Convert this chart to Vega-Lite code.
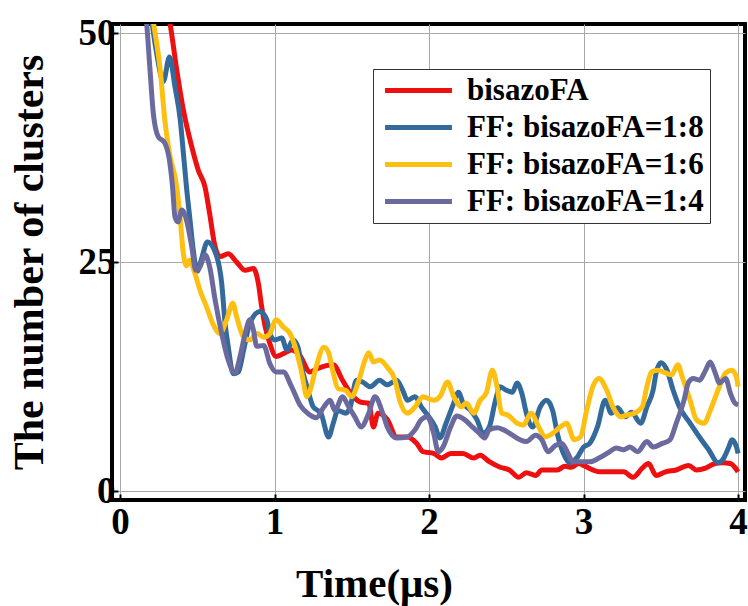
{
  "$schema": "https://vega.github.io/schema/vega-lite/v6.json",
  "width": 633,
  "height": 476,
  "autosize": "none",
  "padding": {"left": 112, "top": 24, "right": 3, "bottom": 106},
  "background": "white",
  "config": {
    "view": {"stroke": "black", "strokeWidth": 4},
    "font": "Liberation Serif"
  },
  "data": {
    "values": [
      {"s": "bisazoFA", "t": 0.30, "v": 53},
      {"s": "bisazoFA", "t": 0.32, "v": 51.4},
      {"s": "bisazoFA", "t": 0.367, "v": 46},
      {"s": "bisazoFA", "t": 0.41, "v": 41.6},
      {"s": "bisazoFA", "t": 0.464, "v": 37.6},
      {"s": "bisazoFA", "t": 0.507, "v": 35},
      {"s": "bisazoFA", "t": 0.55, "v": 33.2},
      {"s": "bisazoFA", "t": 0.58, "v": 30.3},
      {"s": "bisazoFA", "t": 0.615, "v": 26.7},
      {"s": "bisazoFA", "t": 0.647, "v": 25.6},
      {"s": "bisazoFA", "t": 0.70, "v": 25.9},
      {"s": "bisazoFA", "t": 0.755, "v": 25.0},
      {"s": "bisazoFA", "t": 0.81, "v": 24.1},
      {"s": "bisazoFA", "t": 0.863, "v": 24.3},
      {"s": "bisazoFA", "t": 0.895, "v": 22.7},
      {"s": "bisazoFA", "t": 0.917, "v": 20.1},
      {"s": "bisazoFA", "t": 0.94, "v": 17.9},
      {"s": "bisazoFA", "t": 0.97, "v": 16.1},
      {"s": "bisazoFA", "t": 1.01, "v": 14.7},
      {"s": "bisazoFA", "t": 1.057, "v": 15.0},
      {"s": "bisazoFA", "t": 1.11, "v": 15.4},
      {"s": "bisazoFA", "t": 1.16, "v": 14.9},
      {"s": "bisazoFA", "t": 1.23, "v": 13.0},
      {"s": "bisazoFA", "t": 1.28, "v": 13.4},
      {"s": "bisazoFA", "t": 1.38, "v": 13.8},
      {"s": "bisazoFA", "t": 1.44, "v": 12.1},
      {"s": "bisazoFA", "t": 1.51, "v": 10.3},
      {"s": "bisazoFA", "t": 1.56, "v": 9.7},
      {"s": "bisazoFA", "t": 1.61, "v": 9.6},
      {"s": "bisazoFA", "t": 1.64, "v": 7.0},
      {"s": "bisazoFA", "t": 1.67, "v": 8.5},
      {"s": "bisazoFA", "t": 1.73, "v": 7.8},
      {"s": "bisazoFA", "t": 1.79, "v": 5.9},
      {"s": "bisazoFA", "t": 1.86, "v": 5.9},
      {"s": "bisazoFA", "t": 1.92, "v": 5.2},
      {"s": "bisazoFA", "t": 1.96, "v": 4.3},
      {"s": "bisazoFA", "t": 2.03, "v": 4.1},
      {"s": "bisazoFA", "t": 2.08, "v": 3.6},
      {"s": "bisazoFA", "t": 2.14, "v": 4.1},
      {"s": "bisazoFA", "t": 2.22, "v": 4.1},
      {"s": "bisazoFA", "t": 2.29, "v": 3.6},
      {"s": "bisazoFA", "t": 2.33, "v": 3.9},
      {"s": "bisazoFA", "t": 2.39, "v": 3.2},
      {"s": "bisazoFA", "t": 2.46, "v": 2.6},
      {"s": "bisazoFA", "t": 2.52, "v": 2.3},
      {"s": "bisazoFA", "t": 2.58, "v": 1.5},
      {"s": "bisazoFA", "t": 2.63, "v": 2.0},
      {"s": "bisazoFA", "t": 2.69, "v": 1.7},
      {"s": "bisazoFA", "t": 2.73, "v": 2.3},
      {"s": "bisazoFA", "t": 2.83, "v": 2.3},
      {"s": "bisazoFA", "t": 2.88, "v": 2.7},
      {"s": "bisazoFA", "t": 2.92, "v": 2.6},
      {"s": "bisazoFA", "t": 2.97, "v": 3.0},
      {"s": "bisazoFA", "t": 3.0, "v": 2.8},
      {"s": "bisazoFA", "t": 3.06, "v": 2.3},
      {"s": "bisazoFA", "t": 3.1, "v": 2.1},
      {"s": "bisazoFA", "t": 3.26, "v": 2.1},
      {"s": "bisazoFA", "t": 3.32, "v": 1.5},
      {"s": "bisazoFA", "t": 3.38, "v": 2.5},
      {"s": "bisazoFA", "t": 3.42, "v": 3.0},
      {"s": "bisazoFA", "t": 3.47, "v": 1.7},
      {"s": "bisazoFA", "t": 3.53, "v": 2.1},
      {"s": "bisazoFA", "t": 3.6, "v": 2.3},
      {"s": "bisazoFA", "t": 3.68, "v": 2.8},
      {"s": "bisazoFA", "t": 3.73, "v": 2.3},
      {"s": "bisazoFA", "t": 3.79, "v": 2.5},
      {"s": "bisazoFA", "t": 3.85, "v": 3.0},
      {"s": "bisazoFA", "t": 3.9, "v": 3.1},
      {"s": "bisazoFA", "t": 3.95, "v": 3.0},
      {"s": "bisazoFA", "t": 4.0, "v": 2.1},

      {"s": "FF: bisazoFA=1:8", "t": 0.20, "v": 52},
      {"s": "FF: bisazoFA=1:8", "t": 0.24, "v": 47.5},
      {"s": "FF: bisazoFA=1:8", "t": 0.28, "v": 44.7},
      {"s": "FF: bisazoFA=1:8", "t": 0.32, "v": 47.4},
      {"s": "FF: bisazoFA=1:8", "t": 0.356, "v": 44.1},
      {"s": "FF: bisazoFA=1:8", "t": 0.39, "v": 40.5},
      {"s": "FF: bisazoFA=1:8", "t": 0.41, "v": 36.9},
      {"s": "FF: bisazoFA=1:8", "t": 0.43, "v": 33.2},
      {"s": "FF: bisazoFA=1:8", "t": 0.453, "v": 29.6},
      {"s": "FF: bisazoFA=1:8", "t": 0.474, "v": 26.3},
      {"s": "FF: bisazoFA=1:8", "t": 0.50, "v": 24.0},
      {"s": "FF: bisazoFA=1:8", "t": 0.53, "v": 25.5},
      {"s": "FF: bisazoFA=1:8", "t": 0.565, "v": 27.2},
      {"s": "FF: bisazoFA=1:8", "t": 0.626, "v": 25.6},
      {"s": "FF: bisazoFA=1:8", "t": 0.658, "v": 22.7},
      {"s": "FF: bisazoFA=1:8", "t": 0.68, "v": 18.3},
      {"s": "FF: bisazoFA=1:8", "t": 0.70, "v": 15.8},
      {"s": "FF: bisazoFA=1:8", "t": 0.733, "v": 12.8},
      {"s": "FF: bisazoFA=1:8", "t": 0.766, "v": 13.0},
      {"s": "FF: bisazoFA=1:8", "t": 0.80, "v": 15.4},
      {"s": "FF: bisazoFA=1:8", "t": 0.84, "v": 18.3},
      {"s": "FF: bisazoFA=1:8", "t": 0.906, "v": 19.6},
      {"s": "FF: bisazoFA=1:8", "t": 0.95, "v": 18.7},
      {"s": "FF: bisazoFA=1:8", "t": 0.97, "v": 17.2},
      {"s": "FF: bisazoFA=1:8", "t": 1.0, "v": 16.5},
      {"s": "FF: bisazoFA=1:8", "t": 1.047, "v": 16.7},
      {"s": "FF: bisazoFA=1:8", "t": 1.08, "v": 15.4},
      {"s": "FF: bisazoFA=1:8", "t": 1.12, "v": 16.5},
      {"s": "FF: bisazoFA=1:8", "t": 1.15, "v": 15.8},
      {"s": "FF: bisazoFA=1:8", "t": 1.186, "v": 12.8},
      {"s": "FF: bisazoFA=1:8", "t": 1.21, "v": 11.4},
      {"s": "FF: bisazoFA=1:8", "t": 1.25, "v": 9.2},
      {"s": "FF: bisazoFA=1:8", "t": 1.3, "v": 8.5},
      {"s": "FF: bisazoFA=1:8", "t": 1.35, "v": 5.9},
      {"s": "FF: bisazoFA=1:8", "t": 1.38, "v": 7.4},
      {"s": "FF: bisazoFA=1:8", "t": 1.41, "v": 8.8},
      {"s": "FF: bisazoFA=1:8", "t": 1.46, "v": 8.5},
      {"s": "FF: bisazoFA=1:8", "t": 1.49, "v": 9.2},
      {"s": "FF: bisazoFA=1:8", "t": 1.53, "v": 12.1},
      {"s": "FF: bisazoFA=1:8", "t": 1.57, "v": 11.9},
      {"s": "FF: bisazoFA=1:8", "t": 1.62, "v": 11.4},
      {"s": "FF: bisazoFA=1:8", "t": 1.68, "v": 12.1},
      {"s": "FF: bisazoFA=1:8", "t": 1.73, "v": 11.6},
      {"s": "FF: bisazoFA=1:8", "t": 1.79, "v": 12.1},
      {"s": "FF: bisazoFA=1:8", "t": 1.83, "v": 11.0},
      {"s": "FF: bisazoFA=1:8", "t": 1.86, "v": 9.9},
      {"s": "FF: bisazoFA=1:8", "t": 1.91, "v": 10.3},
      {"s": "FF: bisazoFA=1:8", "t": 1.95, "v": 9.2},
      {"s": "FF: bisazoFA=1:8", "t": 1.99, "v": 8.3},
      {"s": "FF: bisazoFA=1:8", "t": 2.04, "v": 7.0},
      {"s": "FF: bisazoFA=1:8", "t": 2.07, "v": 5.8},
      {"s": "FF: bisazoFA=1:8", "t": 2.11, "v": 7.4},
      {"s": "FF: bisazoFA=1:8", "t": 2.16, "v": 9.6},
      {"s": "FF: bisazoFA=1:8", "t": 2.19, "v": 10.8},
      {"s": "FF: bisazoFA=1:8", "t": 2.22, "v": 9.6},
      {"s": "FF: bisazoFA=1:8", "t": 2.27, "v": 8.8},
      {"s": "FF: bisazoFA=1:8", "t": 2.31, "v": 7.8},
      {"s": "FF: bisazoFA=1:8", "t": 2.35, "v": 6.3},
      {"s": "FF: bisazoFA=1:8", "t": 2.39, "v": 7.0},
      {"s": "FF: bisazoFA=1:8", "t": 2.43, "v": 9.9},
      {"s": "FF: bisazoFA=1:8", "t": 2.46, "v": 11.4},
      {"s": "FF: bisazoFA=1:8", "t": 2.5, "v": 11.0},
      {"s": "FF: bisazoFA=1:8", "t": 2.54, "v": 10.8},
      {"s": "FF: bisazoFA=1:8", "t": 2.57, "v": 11.8},
      {"s": "FF: bisazoFA=1:8", "t": 2.6, "v": 10.7},
      {"s": "FF: bisazoFA=1:8", "t": 2.63, "v": 8.5},
      {"s": "FF: bisazoFA=1:8", "t": 2.67, "v": 7.0},
      {"s": "FF: bisazoFA=1:8", "t": 2.72, "v": 9.2},
      {"s": "FF: bisazoFA=1:8", "t": 2.76, "v": 9.9},
      {"s": "FF: bisazoFA=1:8", "t": 2.8, "v": 8.8},
      {"s": "FF: bisazoFA=1:8", "t": 2.83, "v": 6.3},
      {"s": "FF: bisazoFA=1:8", "t": 2.87, "v": 4.1},
      {"s": "FF: bisazoFA=1:8", "t": 2.91, "v": 3.1},
      {"s": "FF: bisazoFA=1:8", "t": 2.96, "v": 3.7},
      {"s": "FF: bisazoFA=1:8", "t": 3.0, "v": 4.8},
      {"s": "FF: bisazoFA=1:8", "t": 3.04, "v": 5.2},
      {"s": "FF: bisazoFA=1:8", "t": 3.09, "v": 7.0},
      {"s": "FF: bisazoFA=1:8", "t": 3.14, "v": 9.9},
      {"s": "FF: bisazoFA=1:8", "t": 3.18, "v": 8.5},
      {"s": "FF: bisazoFA=1:8", "t": 3.22, "v": 9.1},
      {"s": "FF: bisazoFA=1:8", "t": 3.27, "v": 8.1},
      {"s": "FF: bisazoFA=1:8", "t": 3.31, "v": 8.6},
      {"s": "FF: bisazoFA=1:8", "t": 3.37, "v": 7.4},
      {"s": "FF: bisazoFA=1:8", "t": 3.41, "v": 9.2},
      {"s": "FF: bisazoFA=1:8", "t": 3.45, "v": 11.0},
      {"s": "FF: bisazoFA=1:8", "t": 3.47, "v": 12.9},
      {"s": "FF: bisazoFA=1:8", "t": 3.5, "v": 14.0},
      {"s": "FF: bisazoFA=1:8", "t": 3.54, "v": 13.2},
      {"s": "FF: bisazoFA=1:8", "t": 3.58, "v": 11.0},
      {"s": "FF: bisazoFA=1:8", "t": 3.62, "v": 9.2},
      {"s": "FF: bisazoFA=1:8", "t": 3.69, "v": 7.4},
      {"s": "FF: bisazoFA=1:8", "t": 3.75, "v": 5.9},
      {"s": "FF: bisazoFA=1:8", "t": 3.81, "v": 4.5},
      {"s": "FF: bisazoFA=1:8", "t": 3.87, "v": 3.1},
      {"s": "FF: bisazoFA=1:8", "t": 3.9, "v": 3.4},
      {"s": "FF: bisazoFA=1:8", "t": 3.94, "v": 4.8},
      {"s": "FF: bisazoFA=1:8", "t": 3.96, "v": 5.6},
      {"s": "FF: bisazoFA=1:8", "t": 3.99, "v": 4.8},
      {"s": "FF: bisazoFA=1:8", "t": 4.0, "v": 4.1},

      {"s": "FF: bisazoFA=1:6", "t": 0.20, "v": 53},
      {"s": "FF: bisazoFA=1:6", "t": 0.214, "v": 51.4},
      {"s": "FF: bisazoFA=1:6", "t": 0.26, "v": 46},
      {"s": "FF: bisazoFA=1:6", "t": 0.29, "v": 40.5},
      {"s": "FF: bisazoFA=1:6", "t": 0.32, "v": 36.9},
      {"s": "FF: bisazoFA=1:6", "t": 0.367, "v": 33.2},
      {"s": "FF: bisazoFA=1:6", "t": 0.39, "v": 29.6},
      {"s": "FF: bisazoFA=1:6", "t": 0.41, "v": 25.9},
      {"s": "FF: bisazoFA=1:6", "t": 0.43, "v": 24.6},
      {"s": "FF: bisazoFA=1:6", "t": 0.45, "v": 25.2},
      {"s": "FF: bisazoFA=1:6", "t": 0.48, "v": 24.0},
      {"s": "FF: bisazoFA=1:6", "t": 0.518, "v": 21.9},
      {"s": "FF: bisazoFA=1:6", "t": 0.56, "v": 20.1},
      {"s": "FF: bisazoFA=1:6", "t": 0.60, "v": 18.3},
      {"s": "FF: bisazoFA=1:6", "t": 0.647, "v": 17.2},
      {"s": "FF: bisazoFA=1:6", "t": 0.69, "v": 18.7},
      {"s": "FF: bisazoFA=1:6", "t": 0.73, "v": 20.5},
      {"s": "FF: bisazoFA=1:6", "t": 0.755, "v": 19.0},
      {"s": "FF: bisazoFA=1:6", "t": 0.80, "v": 16.8},
      {"s": "FF: bisazoFA=1:6", "t": 0.84, "v": 16.5},
      {"s": "FF: bisazoFA=1:6", "t": 0.885, "v": 17.2},
      {"s": "FF: bisazoFA=1:6", "t": 0.93, "v": 16.8},
      {"s": "FF: bisazoFA=1:6", "t": 0.97, "v": 17.2},
      {"s": "FF: bisazoFA=1:6", "t": 1.01, "v": 18.7},
      {"s": "FF: bisazoFA=1:6", "t": 1.057, "v": 17.9},
      {"s": "FF: bisazoFA=1:6", "t": 1.10, "v": 17.2},
      {"s": "FF: bisazoFA=1:6", "t": 1.14, "v": 15.4},
      {"s": "FF: bisazoFA=1:6", "t": 1.176, "v": 12.9},
      {"s": "FF: bisazoFA=1:6", "t": 1.21, "v": 10.3},
      {"s": "FF: bisazoFA=1:6", "t": 1.23, "v": 11.0},
      {"s": "FF: bisazoFA=1:6", "t": 1.27, "v": 13.6},
      {"s": "FF: bisazoFA=1:6", "t": 1.32, "v": 15.7},
      {"s": "FF: bisazoFA=1:6", "t": 1.35, "v": 15.1},
      {"s": "FF: bisazoFA=1:6", "t": 1.38, "v": 12.9},
      {"s": "FF: bisazoFA=1:6", "t": 1.41, "v": 11.2},
      {"s": "FF: bisazoFA=1:6", "t": 1.46, "v": 11.0},
      {"s": "FF: bisazoFA=1:6", "t": 1.5, "v": 10.3},
      {"s": "FF: bisazoFA=1:6", "t": 1.54, "v": 11.8},
      {"s": "FF: bisazoFA=1:6", "t": 1.59, "v": 14.5},
      {"s": "FF: bisazoFA=1:6", "t": 1.61, "v": 15.1},
      {"s": "FF: bisazoFA=1:6", "t": 1.64, "v": 14.1},
      {"s": "FF: bisazoFA=1:6", "t": 1.68, "v": 14.3},
      {"s": "FF: bisazoFA=1:6", "t": 1.73, "v": 13.5},
      {"s": "FF: bisazoFA=1:6", "t": 1.78, "v": 12.1},
      {"s": "FF: bisazoFA=1:6", "t": 1.81, "v": 9.9},
      {"s": "FF: bisazoFA=1:6", "t": 1.86, "v": 8.5},
      {"s": "FF: bisazoFA=1:6", "t": 1.91, "v": 9.2},
      {"s": "FF: bisazoFA=1:6", "t": 1.96, "v": 10.3},
      {"s": "FF: bisazoFA=1:6", "t": 2.03, "v": 9.9},
      {"s": "FF: bisazoFA=1:6", "t": 2.07, "v": 10.3},
      {"s": "FF: bisazoFA=1:6", "t": 2.12, "v": 11.9},
      {"s": "FF: bisazoFA=1:6", "t": 2.16, "v": 10.3},
      {"s": "FF: bisazoFA=1:6", "t": 2.21, "v": 9.2},
      {"s": "FF: bisazoFA=1:6", "t": 2.24, "v": 9.6},
      {"s": "FF: bisazoFA=1:6", "t": 2.29, "v": 8.5},
      {"s": "FF: bisazoFA=1:6", "t": 2.33, "v": 9.9},
      {"s": "FF: bisazoFA=1:6", "t": 2.37, "v": 10.7},
      {"s": "FF: bisazoFA=1:6", "t": 2.41, "v": 13.2},
      {"s": "FF: bisazoFA=1:6", "t": 2.44, "v": 11.4},
      {"s": "FF: bisazoFA=1:6", "t": 2.47, "v": 8.5},
      {"s": "FF: bisazoFA=1:6", "t": 2.51, "v": 8.3},
      {"s": "FF: bisazoFA=1:6", "t": 2.57, "v": 7.4},
      {"s": "FF: bisazoFA=1:6", "t": 2.61, "v": 7.2},
      {"s": "FF: bisazoFA=1:6", "t": 2.66, "v": 8.5},
      {"s": "FF: bisazoFA=1:6", "t": 2.71, "v": 7.0},
      {"s": "FF: bisazoFA=1:6", "t": 2.75, "v": 5.9},
      {"s": "FF: bisazoFA=1:6", "t": 2.8, "v": 6.3},
      {"s": "FF: bisazoFA=1:6", "t": 2.85, "v": 7.0},
      {"s": "FF: bisazoFA=1:6", "t": 2.89, "v": 7.4},
      {"s": "FF: bisazoFA=1:6", "t": 2.94, "v": 5.6},
      {"s": "FF: bisazoFA=1:6", "t": 2.98, "v": 5.9},
      {"s": "FF: bisazoFA=1:6", "t": 3.02, "v": 8.8},
      {"s": "FF: bisazoFA=1:6", "t": 3.06, "v": 11.4},
      {"s": "FF: bisazoFA=1:6", "t": 3.1, "v": 12.3},
      {"s": "FF: bisazoFA=1:6", "t": 3.15, "v": 11.0},
      {"s": "FF: bisazoFA=1:6", "t": 3.19, "v": 9.2},
      {"s": "FF: bisazoFA=1:6", "t": 3.24, "v": 8.1},
      {"s": "FF: bisazoFA=1:6", "t": 3.28, "v": 8.3},
      {"s": "FF: bisazoFA=1:6", "t": 3.33, "v": 8.5},
      {"s": "FF: bisazoFA=1:6", "t": 3.38, "v": 9.2},
      {"s": "FF: bisazoFA=1:6", "t": 3.41, "v": 11.4},
      {"s": "FF: bisazoFA=1:6", "t": 3.44, "v": 13.0},
      {"s": "FF: bisazoFA=1:6", "t": 3.48, "v": 13.2},
      {"s": "FF: bisazoFA=1:6", "t": 3.53, "v": 12.9},
      {"s": "FF: bisazoFA=1:6", "t": 3.57, "v": 12.7},
      {"s": "FF: bisazoFA=1:6", "t": 3.61, "v": 13.8},
      {"s": "FF: bisazoFA=1:6", "t": 3.64, "v": 12.4},
      {"s": "FF: bisazoFA=1:6", "t": 3.69, "v": 9.9},
      {"s": "FF: bisazoFA=1:6", "t": 3.73, "v": 7.8},
      {"s": "FF: bisazoFA=1:6", "t": 3.78, "v": 7.4},
      {"s": "FF: bisazoFA=1:6", "t": 3.82, "v": 8.8},
      {"s": "FF: bisazoFA=1:6", "t": 3.87, "v": 11.0},
      {"s": "FF: bisazoFA=1:6", "t": 3.92, "v": 12.9},
      {"s": "FF: bisazoFA=1:6", "t": 3.96, "v": 13.2},
      {"s": "FF: bisazoFA=1:6", "t": 3.99, "v": 12.4},
      {"s": "FF: bisazoFA=1:6", "t": 4.0, "v": 11.4},

      {"s": "FF: bisazoFA=1:4", "t": 0.15, "v": 53},
      {"s": "FF: bisazoFA=1:4", "t": 0.17, "v": 51.4},
      {"s": "FF: bisazoFA=1:4", "t": 0.194, "v": 46},
      {"s": "FF: bisazoFA=1:4", "t": 0.215, "v": 41.3},
      {"s": "FF: bisazoFA=1:4", "t": 0.247, "v": 38.7},
      {"s": "FF: bisazoFA=1:4", "t": 0.29, "v": 38.0},
      {"s": "FF: bisazoFA=1:4", "t": 0.32, "v": 36.1},
      {"s": "FF: bisazoFA=1:4", "t": 0.34, "v": 33.2},
      {"s": "FF: bisazoFA=1:4", "t": 0.356, "v": 29.9},
      {"s": "FF: bisazoFA=1:4", "t": 0.375, "v": 29.4},
      {"s": "FF: bisazoFA=1:4", "t": 0.40, "v": 30.7},
      {"s": "FF: bisazoFA=1:4", "t": 0.43, "v": 29.6},
      {"s": "FF: bisazoFA=1:4", "t": 0.464, "v": 26.7},
      {"s": "FF: bisazoFA=1:4", "t": 0.49, "v": 24.1},
      {"s": "FF: bisazoFA=1:4", "t": 0.518, "v": 24.5},
      {"s": "FF: bisazoFA=1:4", "t": 0.55, "v": 25.8},
      {"s": "FF: bisazoFA=1:4", "t": 0.58, "v": 24.5},
      {"s": "FF: bisazoFA=1:4", "t": 0.615, "v": 20.9},
      {"s": "FF: bisazoFA=1:4", "t": 0.658, "v": 17.2},
      {"s": "FF: bisazoFA=1:4", "t": 0.70, "v": 14.3},
      {"s": "FF: bisazoFA=1:4", "t": 0.744, "v": 12.9},
      {"s": "FF: bisazoFA=1:4", "t": 0.777, "v": 14.7},
      {"s": "FF: bisazoFA=1:4", "t": 0.81, "v": 17.2},
      {"s": "FF: bisazoFA=1:4", "t": 0.84, "v": 18.7},
      {"s": "FF: bisazoFA=1:4", "t": 0.863, "v": 17.6},
      {"s": "FF: bisazoFA=1:4", "t": 0.885, "v": 15.8},
      {"s": "FF: bisazoFA=1:4", "t": 0.93, "v": 15.9},
      {"s": "FF: bisazoFA=1:4", "t": 0.97, "v": 13.9},
      {"s": "FF: bisazoFA=1:4", "t": 1.01, "v": 13.0},
      {"s": "FF: bisazoFA=1:4", "t": 1.057, "v": 13.0},
      {"s": "FF: bisazoFA=1:4", "t": 1.11, "v": 11.4},
      {"s": "FF: bisazoFA=1:4", "t": 1.165, "v": 9.4},
      {"s": "FF: bisazoFA=1:4", "t": 1.22, "v": 8.4},
      {"s": "FF: bisazoFA=1:4", "t": 1.27, "v": 8.0},
      {"s": "FF: bisazoFA=1:4", "t": 1.32, "v": 9.2},
      {"s": "FF: bisazoFA=1:4", "t": 1.36, "v": 9.9},
      {"s": "FF: bisazoFA=1:4", "t": 1.39, "v": 8.8},
      {"s": "FF: bisazoFA=1:4", "t": 1.44, "v": 10.3},
      {"s": "FF: bisazoFA=1:4", "t": 1.48, "v": 9.2},
      {"s": "FF: bisazoFA=1:4", "t": 1.52, "v": 8.1},
      {"s": "FF: bisazoFA=1:4", "t": 1.56, "v": 7.0},
      {"s": "FF: bisazoFA=1:4", "t": 1.61, "v": 8.5},
      {"s": "FF: bisazoFA=1:4", "t": 1.65, "v": 10.3},
      {"s": "FF: bisazoFA=1:4", "t": 1.7, "v": 8.5},
      {"s": "FF: bisazoFA=1:4", "t": 1.73, "v": 7.0},
      {"s": "FF: bisazoFA=1:4", "t": 1.79, "v": 5.8},
      {"s": "FF: bisazoFA=1:4", "t": 1.86, "v": 5.9},
      {"s": "FF: bisazoFA=1:4", "t": 1.91, "v": 6.7},
      {"s": "FF: bisazoFA=1:4", "t": 1.95, "v": 7.8},
      {"s": "FF: bisazoFA=1:4", "t": 1.99, "v": 8.1},
      {"s": "FF: bisazoFA=1:4", "t": 2.03, "v": 6.3},
      {"s": "FF: bisazoFA=1:4", "t": 2.06, "v": 4.3},
      {"s": "FF: bisazoFA=1:4", "t": 2.09, "v": 4.8},
      {"s": "FF: bisazoFA=1:4", "t": 2.14, "v": 7.0},
      {"s": "FF: bisazoFA=1:4", "t": 2.18, "v": 8.2},
      {"s": "FF: bisazoFA=1:4", "t": 2.23, "v": 7.8},
      {"s": "FF: bisazoFA=1:4", "t": 2.28, "v": 7.0},
      {"s": "FF: bisazoFA=1:4", "t": 2.32, "v": 6.4},
      {"s": "FF: bisazoFA=1:4", "t": 2.36, "v": 5.8},
      {"s": "FF: bisazoFA=1:4", "t": 2.39, "v": 6.7},
      {"s": "FF: bisazoFA=1:4", "t": 2.44, "v": 6.9},
      {"s": "FF: bisazoFA=1:4", "t": 2.48, "v": 6.7},
      {"s": "FF: bisazoFA=1:4", "t": 2.54, "v": 6.1},
      {"s": "FF: bisazoFA=1:4", "t": 2.59, "v": 5.6},
      {"s": "FF: bisazoFA=1:4", "t": 2.63, "v": 5.4},
      {"s": "FF: bisazoFA=1:4", "t": 2.69, "v": 6.1},
      {"s": "FF: bisazoFA=1:4", "t": 2.73, "v": 5.6},
      {"s": "FF: bisazoFA=1:4", "t": 2.77, "v": 4.3},
      {"s": "FF: bisazoFA=1:4", "t": 2.82, "v": 5.0},
      {"s": "FF: bisazoFA=1:4", "t": 2.86, "v": 5.2},
      {"s": "FF: bisazoFA=1:4", "t": 2.9, "v": 4.1},
      {"s": "FF: bisazoFA=1:4", "t": 2.93, "v": 3.2},
      {"s": "FF: bisazoFA=1:4", "t": 2.99, "v": 3.2},
      {"s": "FF: bisazoFA=1:4", "t": 3.04, "v": 3.2},
      {"s": "FF: bisazoFA=1:4", "t": 3.1, "v": 3.6},
      {"s": "FF: bisazoFA=1:4", "t": 3.17, "v": 4.3},
      {"s": "FF: bisazoFA=1:4", "t": 3.21, "v": 4.7},
      {"s": "FF: bisazoFA=1:4", "t": 3.26, "v": 4.5},
      {"s": "FF: bisazoFA=1:4", "t": 3.3, "v": 4.8},
      {"s": "FF: bisazoFA=1:4", "t": 3.35, "v": 4.3},
      {"s": "FF: bisazoFA=1:4", "t": 3.41, "v": 5.4},
      {"s": "FF: bisazoFA=1:4", "t": 3.45, "v": 4.8},
      {"s": "FF: bisazoFA=1:4", "t": 3.51, "v": 5.2},
      {"s": "FF: bisazoFA=1:4", "t": 3.56, "v": 5.6},
      {"s": "FF: bisazoFA=1:4", "t": 3.6, "v": 7.4},
      {"s": "FF: bisazoFA=1:4", "t": 3.65, "v": 9.9},
      {"s": "FF: bisazoFA=1:4", "t": 3.68, "v": 11.9},
      {"s": "FF: bisazoFA=1:4", "t": 3.71, "v": 12.3},
      {"s": "FF: bisazoFA=1:4", "t": 3.75, "v": 12.1},
      {"s": "FF: bisazoFA=1:4", "t": 3.79, "v": 13.2},
      {"s": "FF: bisazoFA=1:4", "t": 3.82, "v": 14.1},
      {"s": "FF: bisazoFA=1:4", "t": 3.85, "v": 13.0},
      {"s": "FF: bisazoFA=1:4", "t": 3.88, "v": 11.8},
      {"s": "FF: bisazoFA=1:4", "t": 3.92, "v": 12.3},
      {"s": "FF: bisazoFA=1:4", "t": 3.95, "v": 10.7},
      {"s": "FF: bisazoFA=1:4", "t": 3.98, "v": 9.6},
      {"s": "FF: bisazoFA=1:4", "t": 4.0, "v": 9.4}
    ]
  },
  "mark": {"type": "line", "strokeWidth": 5, "interpolate": "monotone", "clip": true},
  "encoding": {
    "x": {
      "field": "t",
      "type": "quantitative",
      "scale": {"domain": [-0.052, 4.045], "nice": false, "zero": false},
      "axis": {
        "values": [0, 1, 2, 3, 4],
        "format": "d",
        "domain": false,
        "ticks": true,
        "tickSize": -6,
        "tickWidth": 2,
        "tickColor": "black",
        "grid": true,
        "gridColor": "#a8a8a8",
        "gridWidth": 1,
        "labelFont": "Liberation Serif",
        "labelFontWeight": "bold",
        "labelFontSize": 37,
        "labelColor": "black",
        "labelPadding": 10,
        "labelAngle": 0,
        "title": "Time(μs)",
        "titleFont": "Liberation Serif",
        "titleFontWeight": "bold",
        "titleFontSize": 41,
        "titleColor": "black",
        "titleX": 262,
        "titleY": 96,
        "titleAlign": "center",
        "titleBaseline": "alphabetic"
      }
    },
    "y": {
      "field": "v",
      "type": "quantitative",
      "scale": {"domain": [-0.98, 51.0], "nice": false, "zero": false},
      "axis": {
        "values": [0, 25, 50],
        "domain": false,
        "ticks": true,
        "tickSize": -6,
        "tickWidth": 2,
        "tickColor": "black",
        "grid": true,
        "gridColor": "#a8a8a8",
        "gridWidth": 1,
        "labelFont": "Liberation Serif",
        "labelFontWeight": "bold",
        "labelFontSize": 37,
        "labelColor": "black",
        "labelPadding": 3,
        "title": "The number of clusters",
        "titleFont": "Liberation Serif",
        "titleFontWeight": "bold",
        "titleFontSize": 42,
        "titleColor": "black",
        "titleAngle": 270,
        "titleX": -83,
        "titleY": 238,
        "titleAlign": "center",
        "titleBaseline": "middle"
      }
    },
    "color": {
      "field": "s",
      "type": "nominal",
      "scale": {
        "domain": ["bisazoFA", "FF: bisazoFA=1:8", "FF: bisazoFA=1:6", "FF: bisazoFA=1:4"],
        "range": ["#ee1010", "#336a9b", "#fdc012", "#6b6a9e"]
      },
      "legend": {
        "orient": "none",
        "legendX": 261,
        "legendY": 45,
        "title": null,
        "fillColor": "white",
        "strokeColor": "#333333",
        "padding": 6,
        "symbolType": "M-4,0H4",
        "symbolStrokeWidth": 5,
        "symbolSize": 280,
        "symbolOffset": 24,
        "labelFont": "Liberation Serif",
        "labelFontWeight": "bold",
        "labelFontSize": 31,
        "labelColor": "black",
        "labelOffset": 33,
        "labelLimit": 400,
        "rowPadding": 5
      }
    }
  }
}
